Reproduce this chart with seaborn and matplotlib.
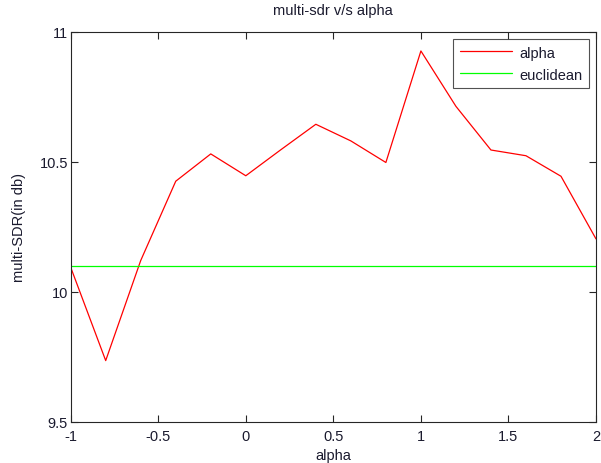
import seaborn as sns
import pandas as pd
import matplotlib.pyplot as plt
import numpy as np

alpha = [-1.0, -0.8, -0.6, -0.4, -0.2, 0.0, 0.2, 0.4, 0.6, 0.8, 1.0, 1.2, 1.4, 1.6, 1.8, 2.0]
sdr_alpha = [10.094, 9.735, 10.12, 10.425, 10.53, 10.446, 10.546, 10.644, 10.58, 10.497,
             10.926, 10.713, 10.545, 10.523, 10.444, 10.203]
sdr_euclidean = 10.10

xticks = [-1, -0.5, 0, 0.5, 1, 1.5, 2]
xticklabels = ["-1", "-0.5", "0", "0.5", "1", "1.5", "2"]
yticks = [9.5, 10, 10.5, 11]
yticklabels = ["9.5", "10", "10.5", "11"]

df = pd.DataFrame({"alpha": alpha, "alpha_sdr": sdr_alpha,
                   "euclidean": [sdr_euclidean] * len(alpha)})

sns.set_theme(style="ticks")
plt.rcParams["font.family"] = ["Liberation Sans", "DejaVu Sans"]
plt.rcParams["xtick.direction"] = "in"
plt.rcParams["ytick.direction"] = "in"

fs = 10.5
fig = plt.figure(figsize=(6.01, 4.64), dpi=100)
fig.patch.set_facecolor("white")
ax = fig.add_axes([0.1176, 0.089, 0.8741, 0.8405])

sns.lineplot(data=df, x="alpha", y="alpha_sdr", color="#ff0000", lw=0.9, ax=ax, label="alpha")
sns.lineplot(data=df, x="alpha", y="euclidean", color="#00ff00", lw=0.9, ax=ax, label="euclidean")

ax.set_xlim(-1, 2)
ax.set_ylim(9.5, 11)
ax.set_xticks(xticks)
ax.set_xticklabels(xticklabels)
ax.set_yticks(yticks)
ax.set_yticklabels(yticklabels)
ax.tick_params(axis="both", labelsize=fs, length=5, width=0.8, color="#262626",
               labelcolor="#1a1a2e", top=True, right=True)
ax.tick_params(axis="x", pad=5)
ax.tick_params(axis="y", pad=2)
for s in ax.spines.values():
    s.set_visible(True)
    s.set_color("#262626")
    s.set_linewidth(0.8)

ax.set_xlabel("alpha", fontsize=fs, labelpad=4, color="#1a1a2e")
ax.set_ylabel("multi-SDR(in db)", fontsize=fs, labelpad=10, color="#1a1a2e")
ax.set_title("multi-sdr v/s alpha", fontsize=fs, pad=13, color="#1a1a2e")

leg = ax.legend(loc="upper right", fontsize=fs, frameon=True, fancybox=False,
                borderaxespad=0.5, handlelength=3.6, handletextpad=0.45,
                labelspacing=0.55, borderpad=0.45)
leg.get_frame().set_edgecolor("#262626")
leg.get_frame().set_linewidth(0.8)
for t in leg.get_texts():
    t.set_color("#1a1a2e")

fig.savefig("out.png", dpi=100, facecolor="white")
